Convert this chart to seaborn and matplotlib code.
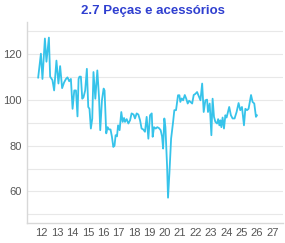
import matplotlib
matplotlib.use("Agg")
import matplotlib.pyplot as plt
from matplotlib.ticker import MultipleLocator
import pandas as pd
import seaborn as sns

# readings (x = year since 2000, y = index)
anos = [11.77, 11.95, 12.05, 12.21, 12.31, 12.47, 12.55, 12.70, 12.81, 12.96,
        13.09, 13.20, 13.33, 13.46, 13.58, 13.68, 13.79, 13.90, 14.01, 14.12,
        14.23, 14.33, 14.40, 14.46, 14.55, 14.64, 14.72, 14.83, 14.94, 15.03,
        15.11, 15.20, 15.29, 15.37, 15.49, 15.62, 15.73, 15.81, 15.92, 16.03,
        16.09, 16.20, 16.29, 16.38, 16.48, 16.57, 16.66, 16.74, 16.81, 16.90,
        16.97, 17.07, 17.18, 17.27, 17.36, 17.42, 17.53, 17.64, 17.75, 17.85,
        17.98, 18.07, 18.18, 18.29, 18.40, 18.50, 18.61, 18.72, 18.83, 18.94,
        19.05, 19.16, 19.22, 19.31, 19.42, 19.52, 19.63, 19.74, 19.83, 19.90,
        19.98, 20.05, 20.16, 20.22, 20.31, 20.42, 20.55, 20.63, 20.74, 20.87,
        20.96, 21.02, 21.11, 21.20, 21.31, 21.40, 21.50, 21.59, 21.68, 21.79,
        21.89, 22.00, 22.11, 22.22, 22.33, 22.44, 22.54, 22.65, 22.76, 22.82,
        22.93, 23.04, 23.12, 23.21, 23.30, 23.41, 23.48, 23.56, 23.62, 23.69,
        23.77, 23.86, 23.95, 24.03, 24.12, 24.20, 24.31, 24.42, 24.55, 24.68,
        24.81, 24.92, 25.03, 25.16, 25.25, 25.36, 25.46, 25.62, 25.72, 25.83,
        25.94, 26.01]
valores = [109.5, 120, 109, 126.6, 116.5, 127, 110, 108.5, 104, 117,
           107, 114.6, 105, 107.5, 109, 109.7, 108, 109, 96, 104,
           104, 92.7, 109, 110, 110, 100.4, 101, 104, 113.4, 96.8,
           96, 87.4, 91.7, 112, 100.4, 112.7, 101, 86.7, 99.7, 104.8,
           104, 85.3, 88, 87, 87, 83.8, 79.4, 80, 84.5, 84,
           88.8, 86.7, 94.6, 90.3, 92, 90.3, 91.5, 89.6, 91, 94,
           93.5, 91.8, 94, 93.5, 91, 87.4, 87, 86, 92.5, 83,
           93.2, 94, 83.8, 88, 87.4, 88, 87.6, 86.7, 84, 78.7,
           91.8, 88, 70.8, 57.3, 68, 83, 90.3, 95.4, 95.4, 101.9,
           101.9, 99, 100.5, 99.7, 102, 100.5, 98.3, 99.5, 99, 98.3,
           102, 102.5, 103.3, 101.5, 99.7, 107, 94.6, 99.7, 100, 94.6,
           98.3, 84.5, 100.4, 92.5, 90.3, 89.6, 91.5, 88.8, 91, 88,
           92.2, 87.4, 93.2, 92.2, 94.6, 96.8, 93.2, 91.8, 91.8, 94.6,
           98.5, 95.4, 96.8, 88.8, 96, 95.4, 96, 102, 99, 98.3,
           92.5, 93.2]
anos_ticks = list(range(12, 28))

df = pd.DataFrame({"ano": anos, "valor": valores})

sns.set_style("white")
plt.rcParams['font.family'] = ['Liberation Sans', 'DejaVu Sans']

fig = plt.figure(figsize=(2.85, 2.43), dpi=100)
ax = fig.add_axes([0.095, 0.0835, 0.898, 0.826])

sns.lineplot(data=df, x="ano", y="valor", ax=ax, color="#36c3ea", lw=1.3)

ax.set_xlim(11.05, 27.7)
ax.set_ylim(46.4, 133.8)
ax.set_xticks(anos_ticks)
ax.set_xticklabels([str(a) for a in anos_ticks])
ax.yaxis.set_major_locator(MultipleLocator(20))
ax.yaxis.set_minor_locator(MultipleLocator(10))
ax.grid(True, axis="y", which="both", color="#e8e8e8", lw=0.8)
ax.set_axisbelow(True)
ax.tick_params(axis="both", which="both", length=0, labelsize=8,
               labelcolor="#555555", pad=4)
ax.set_xlabel("")
ax.set_ylabel("")
for s in ["top", "right"]:
    ax.spines[s].set_visible(False)
for s in ["left", "bottom"]:
    ax.spines[s].set_color("#d8d8d8")
    ax.spines[s].set_linewidth(1.0)

fig.text(0.535, 0.955, "2.7 Peças e acessórios", ha="center", va="center",
         fontsize=9.5, fontweight="bold", color="#2f3fd0")

fig.savefig("out.png", dpi=100)
